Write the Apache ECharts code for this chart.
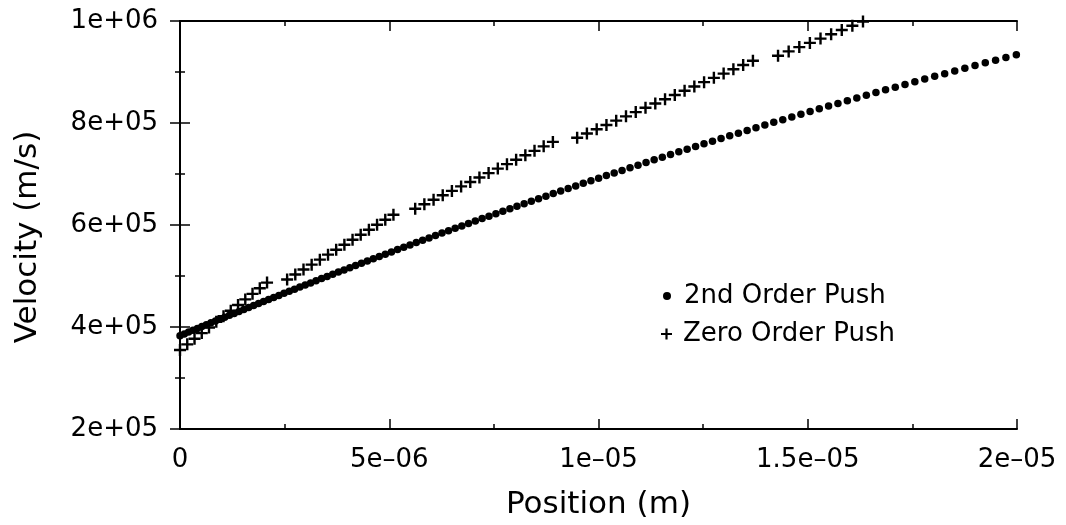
<!DOCTYPE html>
<html>
<head>
<meta charset="utf-8">
<script src="https://cdn.jsdelivr.net/npm/echarts@6/dist/echarts.min.js"></script>
<style>
html,body{margin:0;padding:0;background:#fff;}
#chart{width:1066px;height:525px;}
</style>
</head>
<body>
<div id="chart"></div>
<script>
// Position in micrometres (1e-6 m), velocity in units of 1e5 m/s
const secondOrderX = [0,0.103,0.206,0.311,0.416,0.523,0.630,0.739,0.848,0.958,1.070,1.182,1.295,1.410,1.525,1.641,1.759,1.877,1.997,2.117,2.239,2.362,2.486,2.611,2.737,2.864,2.992,3.121,3.251,3.383,3.516,3.650,3.785,3.921,4.058,4.196,4.336,4.477,4.619,4.762,4.906,5.052,5.199,5.347,5.496,5.646,5.798,5.951,6.105,6.260,6.417,6.575,6.734,6.894,7.056,7.219,7.383,7.548,7.715,7.883,8.052,8.223,8.395,8.568,8.743,8.919,9.096,9.275,9.455,9.636,9.819,10.003,10.188,10.375,10.563,10.753,10.944,11.136,11.330,11.525,11.721,11.919,12.118,12.319,12.521,12.724,12.929,13.135,13.343,13.552,13.763,13.975,14.188,14.403,14.619,14.837,15.056,15.276,15.498,15.721,15.946,16.172,16.400,16.629,16.859,17.091,17.324,17.559,17.795,18.033,18.272,18.512,18.754,18.997,19.242,19.488,19.735,19.984];
const secondOrderV = [3.830,3.865,3.900,3.936,3.972,4.008,4.044,4.081,4.118,4.155,4.192,4.230,4.267,4.306,4.344,4.382,4.421,4.460,4.500,4.539,4.579,4.619,4.660,4.700,4.741,4.782,4.823,4.865,4.907,4.949,4.991,5.034,5.077,5.120,5.163,5.206,5.250,5.294,5.339,5.383,5.428,5.473,5.518,5.564,5.609,5.655,5.701,5.747,5.794,5.841,5.888,5.935,5.982,6.030,6.078,6.126,6.174,6.222,6.271,6.319,6.368,6.417,6.467,6.516,6.566,6.616,6.666,6.716,6.766,6.817,6.867,6.918,6.969,7.020,7.071,7.123,7.174,7.226,7.278,7.330,7.382,7.434,7.486,7.538,7.591,7.643,7.696,7.748,7.801,7.854,7.907,7.960,8.013,8.066,8.119,8.172,8.225,8.278,8.331,8.384,8.438,8.491,8.544,8.597,8.650,8.703,8.756,8.809,8.862,8.915,8.968,9.021,9.074,9.126,9.179,9.231,9.284,9.336];

const zeroOrderX = [0,0.173,0.347,0.520,0.693,0.867,1.040,1.213,1.387,1.560,1.733,1.907,2.080,
  2.560,2.755,2.951,3.146,3.342,3.537,3.732,3.928,4.123,4.318,4.514,4.709,4.905,5.100,
  5.620,5.839,6.059,6.278,6.497,6.717,6.936,7.155,7.374,7.594,7.813,8.032,8.252,8.471,8.690,8.910,
  9.490,9.723,9.957,10.190,10.423,10.657,10.890,11.123,11.357,11.590,11.823,12.057,12.290,12.523,12.757,12.990,13.223,13.457,13.690,
  14.290,14.544,14.798,15.051,15.305,15.559,15.813,16.066,16.320];
const zeroOrderV = [3.550,3.660,3.770,3.880,3.990,4.101,4.210,4.320,4.431,4.541,4.650,4.761,4.871,
  4.930,5.028,5.126,5.223,5.321,5.419,5.516,5.614,5.712,5.809,5.907,6.005,6.103,6.200,
  6.320,6.407,6.495,6.582,6.669,6.757,6.844,6.931,7.018,7.106,7.193,7.280,7.367,7.454,7.542,7.629,
  7.710,7.794,7.878,7.962,8.046,8.130,8.214,8.298,8.382,8.466,8.550,8.633,8.717,8.801,8.885,8.969,9.053,9.137,9.220,
  9.320,9.404,9.488,9.571,9.655,9.739,9.823,9.907,9.990];

const xTickLabels = ['0','5e\u201306','1e\u201305','1.5e\u201305','2e\u201305'];
const yTickLabels = ['2e+05','4e+05','6e+05','8e+05','1e+06'];
const seriesNames = ['2nd Order Push','Zero Order Push'];

const FONT = '"DejaVu Sans", sans-serif';
const PLUS = 'path://M4,0H6V4H10V6H6V10H4V6H0V4H4Z';

const dotData = secondOrderX.map((x,i)=>[x*1e-6, secondOrderV[i]*1e5]);
const plusData = zeroOrderX.map((x,i)=>[x*1e-6, zeroOrderV[i]*1e5]);

const axisLine = {show:true, lineStyle:{color:'#000', width:2}};
const tickCommon = {show:true, inside:true, length:10, lineStyle:{color:'#000', width:1.5}};
const minorCommon = {show:true, splitNumber:2, length:5, lineStyle:{color:'#000', width:1.5}};

const chart = echarts.init(document.getElementById('chart'), null, {renderer:'canvas'});
chart.setOption({
  animation:false,
  backgroundColor:'#fff',
  grid:{left:180, right:49, top:21, bottom:85},
  xAxis:[{
    type:'value', min:0, max:2e-5, interval:5e-6, position:'bottom',
    axisLine:axisLine, axisTick:tickCommon, minorTick:minorCommon, splitLine:{show:false},
    axisLabel:{color:'#000', fontFamily:FONT, fontSize:26, margin:18,
      formatter:(v)=>xTickLabels[Math.round(v/5e-6)]},
    name:'Position (m)', nameLocation:'middle', nameGap:60,
    nameTextStyle:{color:'#000', fontFamily:FONT, fontSize:31}
  },{
    type:'value', min:0, max:2e-5, interval:5e-6, position:'top',
    axisLine:axisLine, axisTick:tickCommon, minorTick:minorCommon, splitLine:{show:false},
    axisLabel:{show:false}
  }],
  yAxis:[{
    type:'value', min:2e5, max:1e6, interval:2e5, position:'left',
    axisLine:axisLine, axisTick:tickCommon, minorTick:minorCommon, splitLine:{show:false},
    axisLabel:{color:'#000', fontFamily:FONT, fontSize:26, margin:22,
      formatter:(v)=>yTickLabels[Math.round((v-2e5)/2e5)]},
    name:'Velocity (m/s)', nameLocation:'middle', nameGap:137, nameRotate:90,
    nameTextStyle:{color:'#000', fontFamily:FONT, fontSize:31, padding:[0,24,0,0]}
  },{
    type:'value', min:2e5, max:1e6, interval:2e5, position:'right',
    axisLine:axisLine, axisTick:tickCommon, minorTick:minorCommon, splitLine:{show:false},
    axisLabel:{show:false}
  }],
  legend:[{
    orient:'vertical', left:658, top:278, itemWidth:8, itemHeight:8, itemGap:0,
    data:[{name:seriesNames[0], icon:'circle'}],
    textStyle:{color:'#000', fontFamily:FONT, fontSize:26, padding:[0,0,0,8]}
  },{
    orient:'vertical', left:656, top:316, itemWidth:11, itemHeight:11, itemGap:0,
    data:[{name:seriesNames[1], icon:PLUS}],
    textStyle:{color:'#000', fontFamily:FONT, fontSize:26, padding:[0,0,0,6]}
  }],
  series:[{
    name:seriesNames[0], type:'scatter', data:dotData, symbol:'circle', symbolSize:7.5,
    itemStyle:{color:'#000', opacity:1}, xAxisIndex:0, yAxisIndex:0
  },{
    name:seriesNames[1], type:'scatter', data:plusData, symbol:PLUS, symbolSize:12,
    itemStyle:{color:'#000', opacity:1}, xAxisIndex:0, yAxisIndex:0
  }]
});
</script>
</body>
</html>
